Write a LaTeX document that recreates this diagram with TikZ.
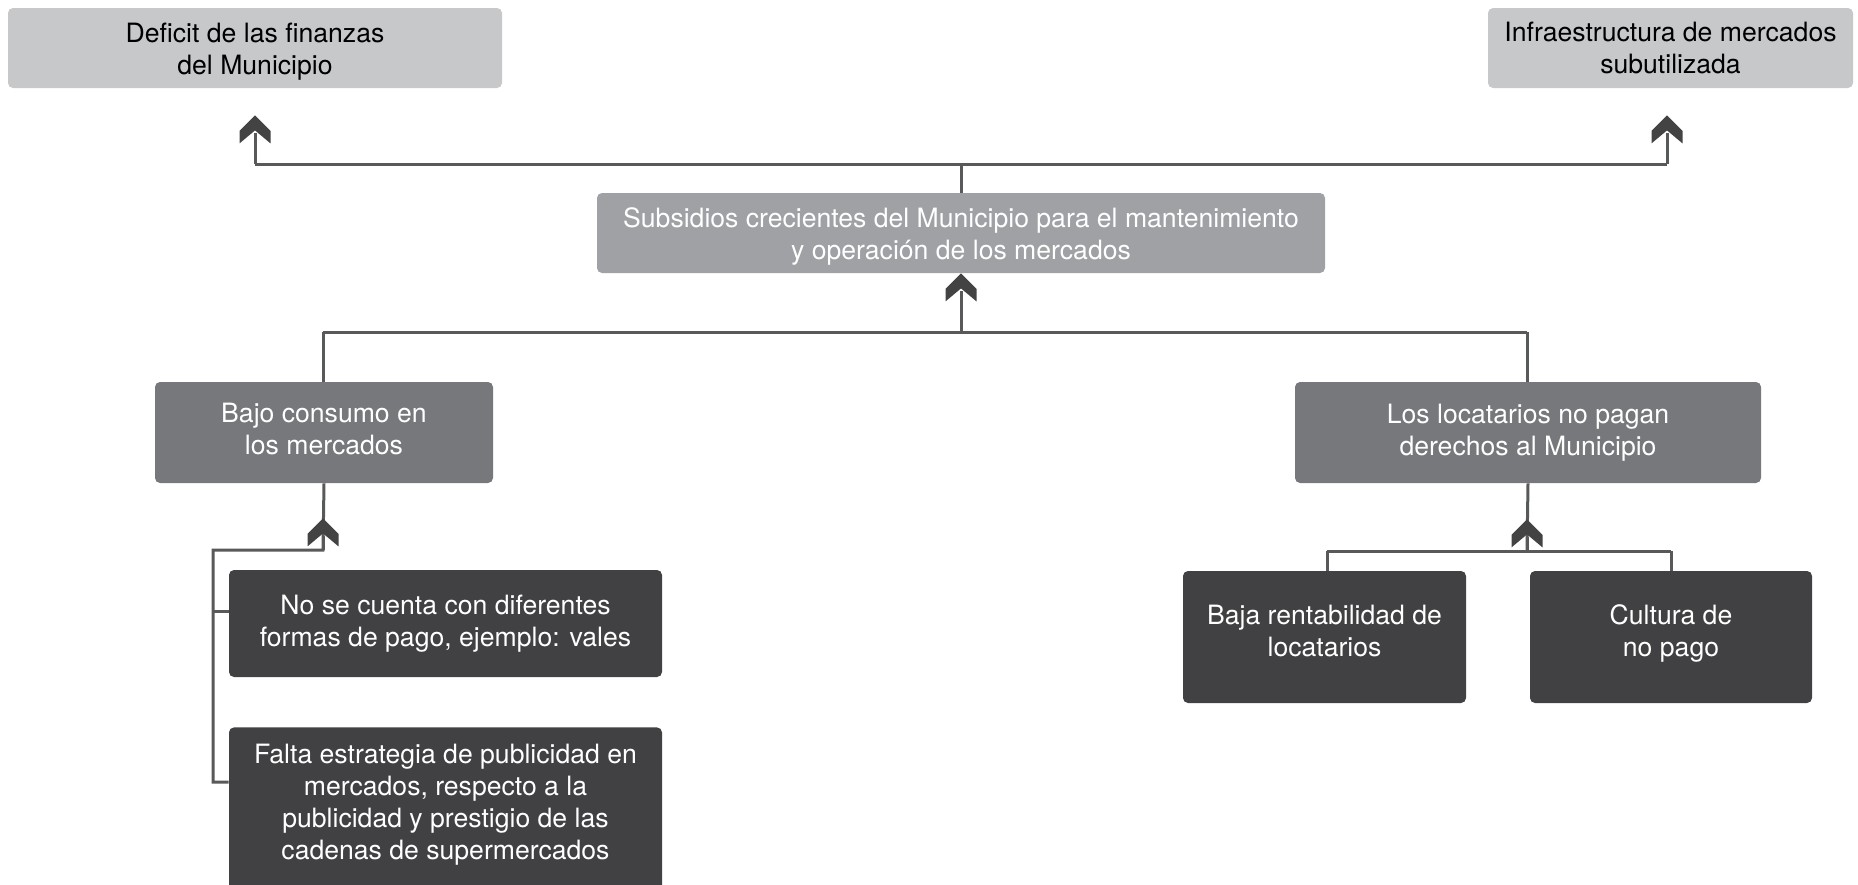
\documentclass[tikz,border=0pt]{standalone}
\usepackage{fontspec}
\setmainfont{TeX Gyre Heros}
\usetikzlibrary{arrows.meta}

\definecolor{light_gray}{HTML}{C7C8CA}
\definecolor{soft_gray}{HTML}{A0A1A4}
\definecolor{mid_gray}{HTML}{77787B}
\definecolor{dark_gray}{HTML}{414042}
\definecolor{line_gray}{HTML}{58595B}

% chevron tip as used on every upward link
\pgfdeclarearrow{
	name=chevron,
	setup code={
		\pgfarrowssettipend{0pt}
		\pgfarrowssetbackend{-14pt}
		\pgfarrowssetlineend{-9pt}
		\pgfarrowshullpoint{0pt}{0pt}
		\pgfarrowshullpoint{-14pt}{7.75pt}
		\pgfarrowshullpoint{-14pt}{-7.75pt}
	},
	drawing code={
		\pgfpathmoveto{\pgfqpoint{0pt}{0pt}}
		\pgfpathlineto{\pgfqpoint{-7.75pt}{7.75pt}}
		\pgfpathlineto{\pgfqpoint{-14pt}{7.75pt}}
		\pgfpathlineto{\pgfqpoint{-7.5pt}{0pt}}
		\pgfpathlineto{\pgfqpoint{-14pt}{-7.75pt}}
		\pgfpathlineto{\pgfqpoint{-7.75pt}{-7.75pt}}
		\pgfpathclose
		\pgfusepathqfill
	}
}

\begin{document}
\begin{tikzpicture}[x=0.5pt,y=-0.5pt,
	box/.style={rounded corners=2.5pt,align=center,inner sep=0pt,font=\fontsize{13.3}{16}\selectfont},
	top_box/.style={box,fill=light_gray,text=black,minimum height=40pt},
	subs_box/.style={box,fill=soft_gray,text=white,minimum height=40pt},
	mid_box/.style={box,fill=mid_gray,text=white,minimum height=50.5pt},
	low_box/.style={box,fill=dark_gray,text=white},
	link/.style={draw=line_gray,line width=1.5pt},
	up_link/.style={link,-{chevron[color=dark_gray!90!line_gray]}}]

		\useasboundingbox (0,0) rectangle (1858,884);

		\node[top_box,minimum width=247pt] (deficit) at (255,48) {\rule{0pt}{13.2pt}Deficit de las finanzas\\del Municipio};
		\node[top_box,minimum width=182.5pt] (infra) at (1670.5,48) {Infraestructura de mercados\\subutilizada};
		\node[subs_box,minimum width=364pt] (subs) at (961,233) {\rule{0pt}{13.2pt}Subsidios crecientes del Municipio para el mantenimiento\\y operación de los mercados};
		\node[mid_box,minimum width=169pt] (bajo) at (324,432.5) {Bajo consumo en\\los mercados\\[-12.5pt] \mbox{}};
		\node[mid_box,minimum width=233pt] (loca) at (1528,432.5) {Los locatarios no pagan\\derechos al Municipio};
		\node[low_box,minimum width=216.5pt,minimum height=53.5pt] (pago) at (445.5,623.5) {No se cuenta con diferentes\\formas de pago, ejemplo: vales};
		\node[low_box,minimum width=216.5pt,anchor=north,inner ysep=8.5pt] (falta) at (445.5,727) {Falta estrategia de publicidad en\\mercados, respecto a la\\publicidad y prestigio de las\\cadenas de supermercados\\ \mbox{}};
		\node[low_box,minimum width=141.5pt,minimum height=66pt] (renta) at (1324.5,637) {Baja rentabilidad de\\locatarios\\[-10pt] \mbox{}};
		\node[low_box,minimum width=141pt,minimum height=66pt] (cultura) at (1671,637) {Cultura de\\no pago\\[-10pt] \mbox{}};

		\coordinate (t1) at (255,164);
		\coordinate (t2) at (1667,164);
		\coordinate (tc) at (961,164);
		\coordinate (m1) at (323,332);
		\coordinate (m2) at (1527,332);
		\coordinate (mc) at (961,332);
		\coordinate (b1) at (323,550);
		\coordinate (b2) at (213,550);
		\coordinate (b3) at (213,782);
		\coordinate (k1) at (213,611);
		\coordinate (r1) at (1527,551);
		\coordinate (r2) at (1327,551);
		\coordinate (r3) at (1671,551);

		\draw[link] (subs.north) -- (tc);
		\draw[link] (t1) -- (t2);
		\draw[up_link,shorten >=13.5pt] (t1) -- (t1 |- deficit.south);
		\draw[up_link,shorten >=13.5pt] (t2) -- (t2 |- infra.south);

		\draw[link] (m1) -- (m2);
		\draw[link] (m1) -- (m1 |- bajo.north);
		\draw[link] (m2) -- (m2 |- loca.north);
		\draw[up_link] (mc) -- (subs.south);

		\draw[link] (bajo.south) -- (b1) -- (b2) -- (b3) -- (b3 -| falta.west);
		\draw[link] (k1) -- (k1 -| pago.west);
		\draw[up_link,shorten >=17.5pt] (b1) -- (b1 |- bajo.south);

		\draw[link] (loca.south) -- (r1);
		\draw[link] (r2) -- (r3);
		\draw[link] (r2) -- (r2 |- renta.north);
		\draw[link] (r3) -- (r3 |- cultura.north);
		\draw[up_link,shorten >=18pt] (r1) -- (r1 |- loca.south);
		\end{tikzpicture}
\end{document}
